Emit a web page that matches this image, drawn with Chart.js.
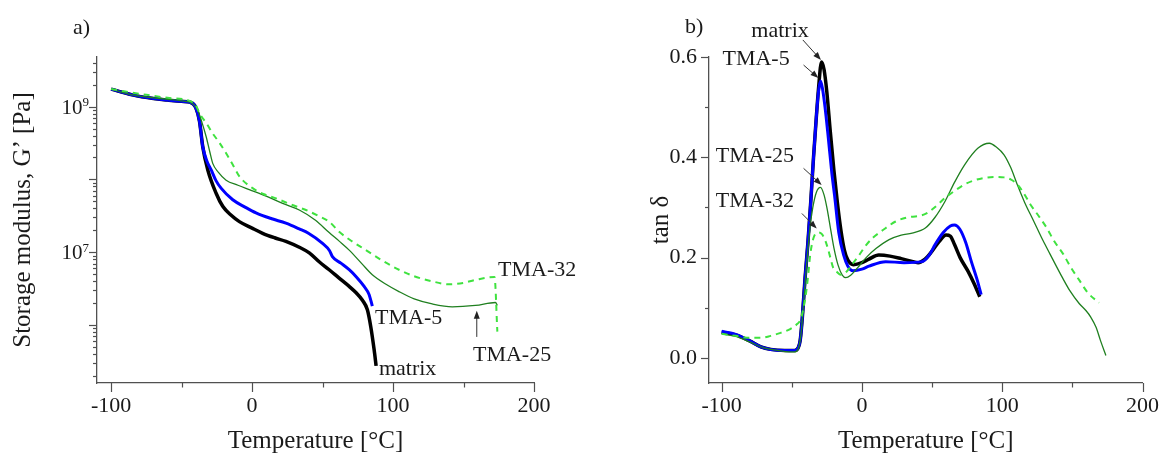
<!DOCTYPE html>
<html>
<head>
<meta charset="utf-8">
<script src="https://cdn.jsdelivr.net/npm/chart.js@4.4.1/dist/chart.umd.min.js"></script>
<style>
html, body { margin: 0; padding: 0; background: #fff; }
#wrap { position: relative; width: 1169px; height: 456px; overflow: hidden; }
canvas { position: absolute; top: 0; }
</style>
</head>
<body>
<div id="wrap">
  <canvas id="modChart" width="585" height="456" style="left:0"></canvas>
  <canvas id="tanChart" width="584" height="456" style="left:585px"></canvas>
</div>
<script>
// ---- a) storage modulus G' [Pa] vs temperature [°C]
const tMatrixG = [-100, -85, -70, -60, -50, -44, -40, -37.3, -35, -31.4, -25.5, -20.8, -15, -9, 0, 7.5, 16, 24, 33.5, 40.6, 47.6, 54.7, 62, 68.9, 74, 78.3, 81.8, 84.2, 86.6, 88];
const gMatrix  = [1.74e9, 1.45e9, 1.29e9, 1.23e9, 1.18e9, 1.15e9, 9.77e8, 6.31e8, 2.82e8, 1.35e8, 6.46e7, 4.27e7, 3.24e7, 2.63e7, 2.14e7, 1.82e7, 1.58e7, 1.41e7, 1.17e7, 9.8e6, 7.4e6, 5.75e6, 4.37e6, 3.39e6, 2.75e6, 2.19e6, 1.62e6, 9.5e5, 4.57e5, 2.75e5];

const tTma5G = [-100, -85, -70, -60, -50, -44, -40, -37.3, -35, -32, -29, -25.5, -22, -13.7, -5, 2.8, 14, 24, 33.5, 40, 50, 55, 57, 63, 68.9, 74, 79.5, 83, 85.3];
const gTma5  = [1.74e9, 1.45e9, 1.29e9, 1.23e9, 1.18e9, 1.15e9, 9.77e8, 6.31e8, 2.82e8, 1.78e8, 1.35e8, 9.55e7, 7.59e7, 5.25e7, 4.17e7, 3.47e7, 2.88e7, 2.51e7, 2.09e7, 1.82e7, 1.32e7, 1.05e7, 8.7e6, 7.08e6, 5.75e6, 4.57e6, 3.39e6, 2.63e6, 1.82e6];

const tTma25G = [-100, -85, -70, -60, -50, -44, -40, -38.5, -35.5, -32.6, -30, -27.9, -24, -18.4, -10, -2, 10, 21.7, 33.5, 45, 54.7, 62, 68.9, 78, 85.3, 95, 104.2, 115, 127.8, 142, 158.5, 172.7, 174];
const gTma25  = [1.74e9, 1.45e9, 1.32e9, 1.26e9, 1.2e9, 1.15e9, 1.0e9, 8.91e8, 6.03e8, 3.89e8, 2.4e8, 1.66e8, 1.26e8, 9.77e7, 8.32e7, 7.24e7, 5.89e7, 4.68e7, 3.8e7, 2.75e7, 1.86e7, 1.41e7, 1.07e7, 6.92e6, 4.9e6, 3.63e6, 2.88e6, 2.29e6, 1.95e6, 1.78e6, 1.86e6, 2.04e6, 1.86e6];

const tTma32G = [-100, -75, -60, -44.4, -40, -37.3, -32, -27.9, -23, -18.4, -13, -9, 0.4, 8, 17, 27, 38.2, 47, 54.7, 61.8, 70, 80.7, 92, 104.2, 115, 127.8, 139.6, 150, 158.5, 172, 174];
const gTma32  = [1.74e9, 1.45e9, 1.32e9, 1.2e9, 1.05e9, 8.13e8, 5.75e8, 4.27e8, 3.16e8, 2.29e8, 1.51e8, 1.1e8, 7.59e7, 6.31e7, 5.5e7, 4.57e7, 3.8e7, 3.16e7, 2.63e7, 1.91e7, 1.45e7, 1.07e7, 7.76e6, 5.75e6, 4.68e6, 3.98e6, 3.63e6, 3.8e6, 4.17e6, 4.57e6, 8.13e5];

// ---- b) tan delta vs temperature [°C]
const tMatrixT = [-100, -90, -80, -72, -65, -55, -48, -45.5, -44, -42.5, -40.5, -38.5, -36.5, -34.5, -32.5, -31, -28.8, -27, -25, -22.5, -20, -17.5, -15, -12.5, -10, -6, 0, 5, 12, 20, 28, 35, 40, 45, 50, 55, 60, 63, 66, 70, 75.6, 80, 84];
const dMatrix  = [0.051, 0.046, 0.034, 0.022, 0.017, 0.015, 0.015, 0.02, 0.035, 0.08, 0.16, 0.23, 0.31, 0.4, 0.48, 0.535, 0.59, 0.575, 0.53, 0.45, 0.375, 0.31, 0.255, 0.215, 0.195, 0.186, 0.19, 0.197, 0.205, 0.203, 0.198, 0.193, 0.19, 0.197, 0.213, 0.232, 0.245, 0.243, 0.226, 0.2, 0.173, 0.148, 0.122];

const tTma5T = [-100, -90, -80, -72, -65, -55, -48, -45.5, -44, -42.5, -40.5, -38.5, -36.5, -34.5, -32.5, -31, -29.5, -28, -26.3, -24, -21.5, -19.5, -16.5, -13, -10, -6.3, 0, 5, 17, 30, 42.8, 48, 52.2, 58, 63, 66, 69.7, 74, 77.9, 82, 85];
const dTma5  = [0.053, 0.047, 0.034, 0.022, 0.017, 0.015, 0.015, 0.02, 0.035, 0.08, 0.16, 0.23, 0.31, 0.4, 0.48, 0.53, 0.552, 0.535, 0.5, 0.44, 0.37, 0.324, 0.25, 0.205, 0.183, 0.174, 0.177, 0.183, 0.192, 0.19, 0.192, 0.205, 0.226, 0.25, 0.263, 0.265, 0.257, 0.23, 0.193, 0.157, 0.126];

const tTma25T = [-100, -90, -80, -70, -60, -52, -48, -45.5, -44, -42.5, -41, -39, -37, -35, -32.5, -29.5, -27, -25, -22.5, -20, -17, -14, -11.5, -8, -3, 3, 10, 19.4, 28, 35.8, 45.2, 52, 59.2, 66, 73.2, 82.6, 90.8, 96, 101.3, 106, 110.7, 116, 122.4, 128, 134.1, 141, 148.2, 155, 159.8, 163, 166.9, 170, 173.9];
const dTma25  = [0.048, 0.043, 0.032, 0.02, 0.015, 0.012, 0.012, 0.018, 0.035, 0.075, 0.13, 0.2, 0.26, 0.3, 0.33, 0.34, 0.325, 0.3, 0.26, 0.22, 0.185, 0.165, 0.16, 0.165, 0.18, 0.2, 0.218, 0.236, 0.245, 0.249, 0.259, 0.28, 0.312, 0.35, 0.385, 0.418, 0.428, 0.42, 0.405, 0.38, 0.346, 0.31, 0.273, 0.24, 0.207, 0.17, 0.134, 0.108, 0.094, 0.082, 0.061, 0.035, 0.005];

const tTma32T = [-100, -90, -80, -72, -65, -58, -50.8, -46, -43.8, -42, -40.3, -38.5, -36.8, -34.4, -31.5, -29, -27, -25, -22.5, -20.5, -18, -15, -11, -6, -2, 3, 8, 15, 24, 32, 40.4, 46, 50, 55, 59.2, 66, 73.2, 80, 87.3, 95, 101.3, 106, 110.7, 115, 120.1, 126, 131.8, 137, 143.5, 149, 155.2, 161, 169];
const dTma32  = [0.048, 0.044, 0.04, 0.04, 0.044, 0.05, 0.058, 0.068, 0.076, 0.095, 0.12, 0.16, 0.207, 0.24, 0.25, 0.248, 0.24, 0.225, 0.2, 0.18, 0.172, 0.166, 0.172, 0.19, 0.205, 0.225, 0.24, 0.255, 0.272, 0.28, 0.283, 0.288, 0.296, 0.308, 0.319, 0.333, 0.346, 0.354, 0.359, 0.361, 0.36, 0.356, 0.346, 0.33, 0.306, 0.283, 0.259, 0.233, 0.207, 0.18, 0.154, 0.13, 0.11];

// axis ticks
const tempMajor = [-100, 0, 100, 200];
const tempMinor = [-50, 50, 150];
const gMajor = [1e6, 1e7, 1e8, 1e9];
const gLabeled = [[1e7, '7'], [1e9, '9']];
const tanMajor = [0, 0.2, 0.4, 0.6];
const tanMinor = [0.1, 0.3, 0.5];

const gMinor = [];
for (let e = 5; e <= 9; e++) {
  for (let k = 2; k <= 9; k++) {
    const v = k * Math.pow(10, e);
    if (v > 1.6e5 && v < 4.8e9) gMinor.push(v);
  }
}

const SERIF = '"Liberation Serif", "Times New Roman", serif';
const AXIS = '#505050';
const TEXT = '#1a1a1a';
const C_MATRIX = '#000000';
const C_TMA5 = '#0000ff';
const C_TMA25 = '#1f7f1f';
const C_TMA32 = '#3fe23f';

Chart.defaults.font.family = SERIF;
Chart.defaults.color = TEXT;

const pts = (xs, ys) => xs.map((x, i) => ({ x: x, y: ys[i] }));

// tick marks, panel letter, curve labels and arrows
function decor(opt) {
  return {
    id: 'decor',
    afterDraw(chart) {
      const ctx = chart.ctx;
      const x = chart.scales.x, y = chart.scales.y;
      const area = chart.chartArea;
      ctx.save();
      ctx.strokeStyle = AXIS;
      ctx.lineWidth = 1.2;
      const seg = (x1, y1, x2, y2) => { ctx.beginPath(); ctx.moveTo(x1, y1); ctx.lineTo(x2, y2); ctx.stroke(); };
      tempMajor.forEach(v => { const p = Math.round(x.getPixelForValue(v)) + 0.5; seg(p, area.bottom, p, area.bottom + 9); });
      tempMinor.forEach(v => { const p = Math.round(x.getPixelForValue(v)) + 0.5; seg(p, area.bottom, p, area.bottom + 4.5); });
      opt.yMajor.forEach(v => { const p = Math.round(y.getPixelForValue(v)) + 0.5; seg(area.left - 8, p, area.left, p); });
      opt.yMinor.forEach(v => { const p = Math.round(y.getPixelForValue(v)) + 0.5; seg(area.left - 4, p, area.left, p); });

      ctx.fillStyle = TEXT;
      if (opt.expLabels) {
        opt.expLabels.forEach(([v, ex]) => {
          const p = y.getPixelForValue(v);
          const right = area.left - 8;
          ctx.textAlign = 'right';
          ctx.textBaseline = 'alphabetic';
          ctx.font = '13px ' + SERIF;
          const w = ctx.measureText(ex).width;
          ctx.fillText(ex, right, p - 0.5);
          ctx.font = '21px ' + SERIF;
          ctx.fillText('10', right - w, p + 7);
        });
      }

      ctx.font = '22px ' + SERIF;
      ctx.textAlign = 'left';
      ctx.textBaseline = 'middle';
      ctx.fillText(opt.panel[0], opt.panel[1], opt.panel[2]);
      opt.labels.forEach(l => {
        ctx.fillText(l.text, x.getPixelForValue(l.x), y.getPixelForValue(l.y));
      });

      ctx.strokeStyle = '#333';
      ctx.fillStyle = '#222';
      ctx.lineWidth = 1;
      opt.arrows.forEach(a => {
        const x1 = x.getPixelForValue(a.from[0]), y1 = y.getPixelForValue(a.from[1]);
        const x2 = x.getPixelForValue(a.to[0]), y2 = y.getPixelForValue(a.to[1]);
        const ang = Math.atan2(y2 - y1, x2 - x1);
        seg(x1, y1, x2 - 5 * Math.cos(ang), y2 - 5 * Math.sin(ang));
        ctx.beginPath();
        ctx.moveTo(x2, y2);
        ctx.lineTo(x2 - 8 * Math.cos(ang) + 3 * Math.sin(ang), y2 - 8 * Math.sin(ang) - 3 * Math.cos(ang));
        ctx.lineTo(x2 - 8 * Math.cos(ang) - 3 * Math.sin(ang), y2 - 8 * Math.sin(ang) + 3 * Math.cos(ang));
        ctx.closePath();
        ctx.fill();
      });
      ctx.restore();
    }
  };
}

function xScale(min, max) {
  return {
    type: 'linear', min: min, max: max,
    afterBuildTicks: s => { s.ticks = tempMajor.map(v => ({ value: v })); },
    afterFit: s => { s.height = 73; },
    grid: { display: false, drawTicks: false },
    border: { display: true, color: AXIS, width: 1.3 },
    ticks: { padding: 10, font: { size: 22 }, color: TEXT, maxRotation: 0, autoSkip: false, callback: v => String(v) },
    title: { display: true, text: 'Temperature [°C]', font: { size: 25 }, color: TEXT, padding: { top: 0, bottom: 0 } }
  };
}

const lineOpts = {
  responsive: false,
  animation: false,
  elements: { point: { radius: 0 }, line: { cubicInterpolationMode: 'monotone', fill: false } },
  plugins: { legend: { display: false }, tooltip: { enabled: false } }
};

// a)
new Chart(document.getElementById('modChart'), {
  type: 'line',
  data: {
    datasets: [
      { label: 'TMA-32', data: pts(tTma32G, gTma32), borderColor: C_TMA32, borderWidth: 2, borderDash: [6, 5] },
      { label: 'TMA-25', data: pts(tTma25G, gTma25), borderColor: C_TMA25, borderWidth: 1.3 },
      { label: 'TMA-5', data: pts(tTma5G, gTma5), borderColor: C_TMA5, borderWidth: 3 },
      { label: 'matrix', data: pts(tMatrixG, gMatrix), borderColor: C_MATRIX, borderWidth: 3.5 }
    ]
  },
  options: Object.assign({}, lineOpts, {
    layout: { padding: { top: 57, right: 51, bottom: 0, left: 0 } },
    scales: {
      x: xScale(-110, 200),
      y: {
        type: 'logarithmic', min: 1.6e5, max: 4.8e9,
        afterBuildTicks: s => { s.ticks = gMajor.map(v => ({ value: v })); },
        afterFit: s => { s.width = 97; },
        grid: { display: false, drawTicks: false },
        border: { display: true, color: AXIS, width: 1.3 },
        ticks: { callback: () => '' },
        title: { display: true, text: 'Storage modulus, G’ [Pa]', font: { size: 25 }, color: TEXT, padding: { top: 8, bottom: 0 } }
      }
    }
  }),
  plugins: [decor({
    yMajor: gMajor, yMinor: gMinor, expLabels: gLabeled,
    panel: ['a)', 73, 28],
    labels: [
      { text: 'TMA-32', x: 174.5, y: Math.pow(10, 6.757) },
      { text: 'TMA-5', x: 87.2, y: Math.pow(10, 6.098) },
      { text: 'TMA-25', x: 156.7, y: Math.pow(10, 5.589) },
      { text: 'matrix', x: 90, y: Math.pow(10, 5.397) }
    ],
    arrows: [{ from: [159.4, Math.pow(10, 5.837)], to: [159.4, Math.pow(10, 6.195)] }]
  })]
});

// b)
new Chart(document.getElementById('tanChart'), {
  type: 'line',
  data: {
    datasets: [
      { label: 'TMA-32', data: pts(tTma32T, dTma32), borderColor: C_TMA32, borderWidth: 2, borderDash: [6, 5] },
      { label: 'TMA-25', data: pts(tTma25T, dTma25), borderColor: C_TMA25, borderWidth: 1.3 },
      { label: 'TMA-5', data: pts(tTma5T, dTma5), borderColor: C_TMA5, borderWidth: 3 },
      { label: 'matrix', data: pts(tMatrixT, dMatrix), borderColor: C_MATRIX, borderWidth: 3.5 }
    ]
  },
  options: Object.assign({}, lineOpts, {
    layout: { padding: { top: 57, right: 20, bottom: 0, left: 0 } },
    scales: {
      x: xScale(-109, 200),
      y: {
        type: 'linear', min: -0.05, max: 0.6,
        afterBuildTicks: s => { s.ticks = tanMajor.map(v => ({ value: v })); },
        afterFit: s => { s.width = 124; },
        grid: { display: false, drawTicks: false },
        border: { display: true, color: AXIS, width: 1.3 },
        ticks: { padding: 12, font: { size: 22 }, color: TEXT, callback: v => v.toFixed(1) },
        title: { display: true, text: 'tan δ', font: { size: 25 }, color: TEXT, padding: { top: 61, bottom: 0 } }
      }
    }
  }),
  plugins: [decor({
    yMajor: tanMajor, yMinor: tanMinor,
    panel: ['b)', 100, 27],
    labels: [
      { text: 'matrix', x: -78.8, y: 0.652 },
      { text: 'TMA-5', x: -99.4, y: 0.596 },
      { text: 'TMA-25', x: -104.1, y: 0.403 },
      { text: 'TMA-32', x: -104.1, y: 0.313 }
    ],
    arrows: [
      { from: [-42.1, 0.634], to: [-29.2, 0.594] },
      { from: [-41.6, 0.584], to: [-31, 0.558] },
      { from: [-41.6, 0.378], to: [-28.7, 0.345] },
      { from: [-42.8, 0.288], to: [-32.2, 0.258] }
    ]
  })]
});
</script>
</body>
</html>
